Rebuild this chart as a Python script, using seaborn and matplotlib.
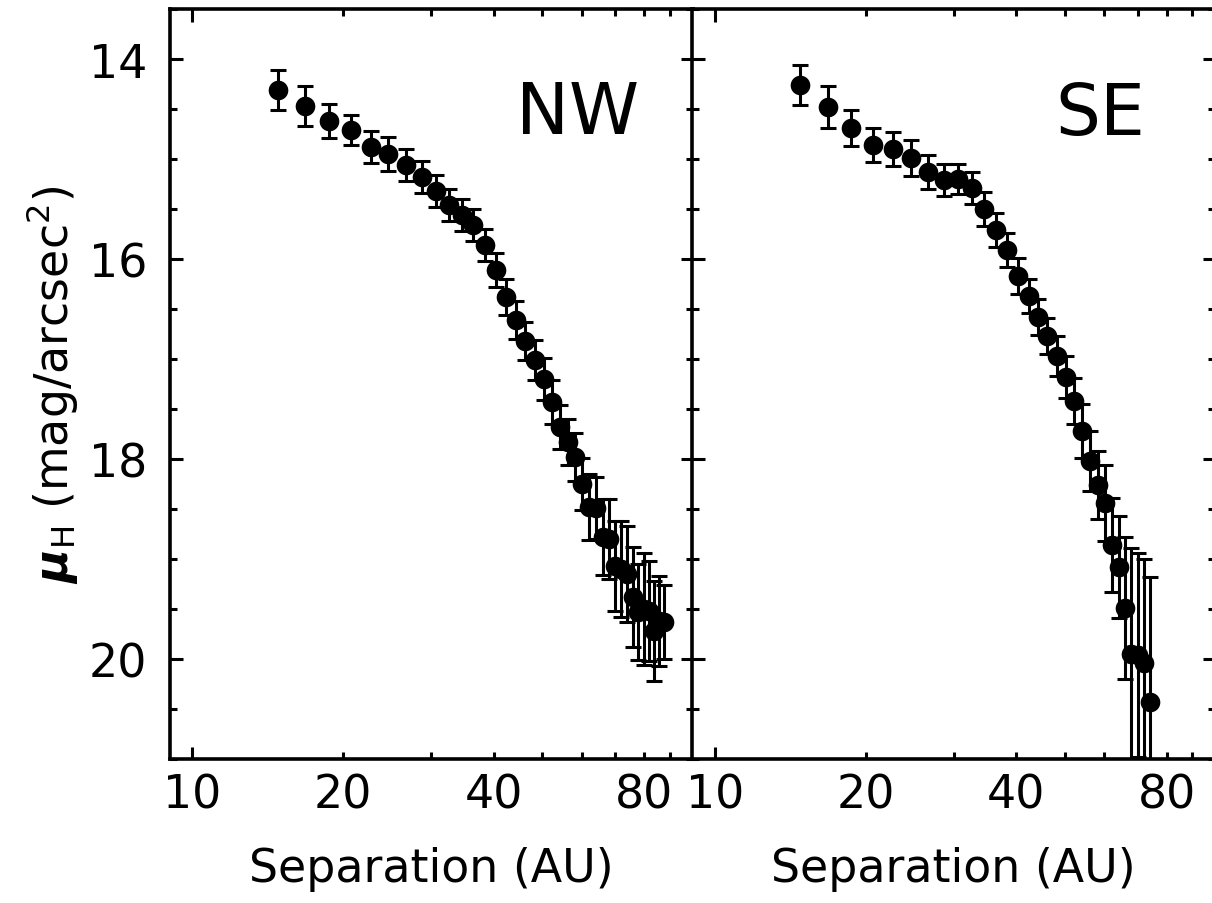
import matplotlib
matplotlib.use("Agg")
import matplotlib.pyplot as plt
import pandas as pd
import seaborn as sns


# NW side profile
nw_sep = [14.8, 16.8, 18.7, 20.7, 22.7, 24.6, 26.7, 28.7, 30.6, 32.6,
          34.5, 36.4, 38.4, 40.4, 42.4, 44.3, 46.2, 48.3, 50.3, 52.3,
          54.2, 56.2, 58.0, 60.1, 62.1, 64.1, 66.0, 68.0, 70.0, 71.9,
          73.9, 75.9, 77.8, 79.8, 81.8, 83.7, 85.7, 87.7]
nw_mu = [14.31, 14.47, 14.62, 14.71, 14.88, 14.95, 15.06, 15.18, 15.32, 15.46,
         15.56, 15.66, 15.86, 16.11, 16.38, 16.61, 16.82, 17.01, 17.20, 17.43,
         17.68, 17.83, 17.98, 18.25, 18.48, 18.49, 18.78, 18.80, 19.07, 19.10,
         19.15, 19.38, 19.53, 19.50, 19.52, 19.72, 19.62, 19.63]
nw_err = [0.20, 0.20, 0.17, 0.15, 0.16, 0.17, 0.16, 0.16, 0.16, 0.16,
          0.16, 0.16, 0.16, 0.17, 0.18, 0.19, 0.19, 0.20, 0.21, 0.22,
          0.22, 0.23, 0.24, 0.26, 0.33, 0.31, 0.38, 0.40, 0.45, 0.48,
          0.48, 0.50, 0.48, 0.56, 0.50, 0.50, 0.45, 0.37]

# SE side profile
se_sep = [14.8, 16.8, 18.7, 20.7, 22.7, 24.6, 26.7, 28.7, 30.6, 32.6,
          34.5, 36.4, 38.4, 40.4, 42.4, 44.3, 46.2, 48.3, 50.3, 52.3,
          54.2, 56.2, 58.2, 60.1, 62.1, 64.1, 66.0, 68.0, 70.0, 71.9, 73.9]
se_mu = [14.26, 14.48, 14.69, 14.86, 14.90, 14.99, 15.13, 15.21, 15.20, 15.29,
         15.50, 15.71, 15.91, 16.17, 16.37, 16.58, 16.77, 16.97, 17.18, 17.42,
         17.72, 18.02, 18.26, 18.44, 18.86, 19.08, 19.49, 19.95, 19.96, 20.04, 20.43]
se_err = [0.20, 0.21, 0.18, 0.17, 0.17, 0.18, 0.17, 0.16, 0.15, 0.16,
          0.17, 0.17, 0.17, 0.18, 0.17, 0.18, 0.18, 0.20, 0.21, 0.23,
          0.27, 0.30, 0.34, 0.38, 0.47, 0.51, 0.71, 1.06, 1.02, 1.04, 1.25]

x_major = [10, 100]
x_minor = [20, 30, 40, 50, 60, 70, 80, 90]
x_minor_labels = ["20", "", "40", "", "", "", "80", ""]
y_major = [14, 16, 18, 20]
y_minor = [13.5, 14.5, 15, 15.5, 16.5, 17, 17.5, 18.5, 19, 19.5, 20.5, 21]

sns.set_theme(style="ticks")
plt.rcParams["font.family"] = ["DejaVu Sans"]
plt.rcParams["mathtext.fontset"] = "dejavusans"


def draw_panel(ax, sep, mu, err, tag, show_y):
    df = pd.DataFrame({"sep": sep, "mu": mu, "err": err})
    ax.set_xscale("log")
    ax.errorbar(df["sep"], df["mu"], yerr=df["err"], fmt="none", ecolor="black",
                elinewidth=2.2, capsize=5.5, capthick=2.2, zorder=2)
    sns.scatterplot(data=df, x="sep", y="mu", ax=ax, color="black", s=200,
                    linewidth=0, zorder=3, legend=False)
    ax.set_xlim(9, 100)
    ax.set_ylim(21, 13.5)

    ax.set_xticks(x_major)
    ax.set_xticklabels(["10", ""])
    ax.set_xticks(x_minor, minor=True)
    ax.set_xticklabels(x_minor_labels, minor=True)
    ax.set_yticks(y_major)
    ax.set_yticks(y_minor, minor=True)
    if show_y:
        ax.set_yticklabels([str(v) for v in y_major])
    else:
        ax.set_yticklabels([])

    ax.tick_params(which="both", direction="in", top=True, right=True,
                   color="black", labelcolor="black", labelsize=33, width=2.2)
    ax.tick_params(axis="x", which="both", pad=10)
    ax.tick_params(axis="y", which="both", pad=16)
    ax.tick_params(which="major", length=9)
    ax.tick_params(which="minor", length=5)
    for s in ax.spines.values():
        s.set_linewidth(2.6)
        s.set_color("black")

    ax.set_xlabel("Separation (AU)", fontsize=33, labelpad=20, color="black")
    ax.set_ylabel("")
    ax.text(0.78, 0.86, tag, transform=ax.transAxes, fontsize=51,
            ha="center", va="center", color="black")


fig = plt.figure(figsize=(12.12, 9.04), dpi=100)
ax1 = fig.add_axes([169.6 / 1212, 144 / 904, 523.3 / 1212, 750 / 904])
ax2 = fig.add_axes([692.0 / 1212, 144 / 904, 523.3 / 1212, 750 / 904])

draw_panel(ax1, nw_sep, nw_mu, nw_err, "NW", True)
draw_panel(ax2, se_sep, se_mu, se_err, "SE", False)

fig.text(52 / 1212, 1 - 385 / 904, r"$\boldsymbol{\mu}_{\mathrm{H}}$ (mag/arcsec$^{2}$)",
         rotation=90, ha="center", va="center", fontsize=33, color="black")

fig.savefig("out.png", dpi=100, facecolor="white")
